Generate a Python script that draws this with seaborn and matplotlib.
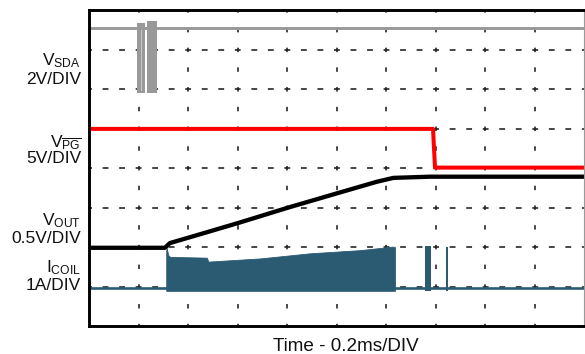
import matplotlib
matplotlib.use("Agg")
import matplotlib.pyplot as plt
import seaborn as sns
import pandas as pd

# Scope screen: 10 horizontal divisions (0.2 ms/DIV), 8 vertical divisions.
# All trace values are given in screen divisions.

# SDA line: idle-high level, low level of the I2C burst, burst windows
sda_time = [0.0, 10.0]
sda_level = [7.54, 7.54]
sda_low = 5.89
sda_burst_start = [0.976, 1.166]
sda_burst_end = [1.131, 1.368]
sda_burst_top = [7.68, 7.71]
sda_gap_time = [1.058, 1.072]

# Power-good (active low) output
pg_time = [0.0, 6.95, 6.99, 10.0]
pg_level = [4.99, 4.99, 4.01, 4.01]

# Output voltage soft-start ramp
vout_time = [0.0, 1.535, 1.60, 1.636, 2.10, 3.02, 4.03, 5.04, 5.81, 6.15, 6.89, 10.0]
vout_level = [1.98, 1.98, 2.06, 2.10, 2.27, 2.61, 3.00, 3.37, 3.65, 3.75, 3.78, 3.78]

# Coil current: zero level, switching envelope, and isolated pulses afterwards
coil_zero = 0.95
coil_valley = 0.89
coil_env_time = [1.56, 1.57, 1.60, 1.636, 2.38, 2.41, 3.45, 4.46, 5.47, 6.14, 6.18]
coil_env_peak = [1.90, 1.97, 1.80, 1.75, 1.73, 1.63, 1.71, 1.84, 1.92, 2.01, 2.00]
coil_pulse_start = [6.79, 7.21]
coil_pulse_end = [6.91, 7.25]
coil_pulse_peak = [2.03, 2.00]

channel_names = [r"$\mathrm{V}_{\mathrm{SDA}}$", r"$\mathrm{V}_{\overline{\mathrm{PG}}}$",
                 r"$\mathrm{V}_{\mathrm{OUT}}$", r"$\mathrm{I}_{\mathrm{COIL}}$"]
channel_scales = ["2V/DIV", "5V/DIV", "0.5V/DIV", "1A/DIV"]
name_baselines = [6.61, 4.53, 2.56, 1.37]
scale_baselines = [6.13, 4.13, 2.10, 0.91]
time_label = "Time - 0.2ms/DIV"

sns.set_theme(style="white")
plt.rcParams["font.family"] = ["Liberation Sans", "DejaVu Sans"]
plt.rcParams["mathtext.fontset"] = "custom"
plt.rcParams["mathtext.rm"] = "Liberation Sans"
plt.rcParams["mathtext.it"] = "Liberation Sans:italic"
plt.rcParams["mathtext.bf"] = "Liberation Sans:bold"
plt.rcParams["lines.scale_dashes"] = False

W, H = 585, 354
fig = plt.figure(figsize=(W / 100, H / 100), dpi=100)
left, right, top, bottom = 89, 584, 10, 326
ax = fig.add_axes([left / W, (H - bottom) / H, (right - left) / W, (bottom - top) / H])
ax.set_xlim(0, 10)
ax.set_ylim(0, 8)

# Graticule
ax.set_xticks(range(1, 10))
ax.set_yticks(range(1, 8))
ax.set_xticklabels([])
ax.set_yticklabels([])
ax.tick_params(length=0)
ax.set_axisbelow(True)
ax.xaxis.grid(True, color="#1e1e1e", linewidth=1.15, linestyle=(1.6, (3.2, 11.0)))
ax.yaxis.grid(True, color="#1e1e1e", linewidth=1.15, linestyle=(2.1, (4.2, 7.7)))

for side in ("left", "top", "bottom"):
    ax.spines[side].set_color("black")
    ax.spines[side].set_linewidth(2.1)
ax.spines["right"].set_color("#9a9a9a")
ax.spines["right"].set_linewidth(0.8)

gray = "#999999"
red = "#ff0000"
teal = "#2a5b73"

# SDA
sns.lineplot(x=sda_time, y=sda_level, ax=ax, color=gray, linewidth=2.1,
             estimator=None, sort=False)
for s, e, t in zip(sda_burst_start, sda_burst_end, sda_burst_top):
    ax.fill_between([s, e], [sda_low, sda_low], [t, t], color=gray, linewidth=0)
ax.fill_between(sda_gap_time, [sda_low + 0.05] * 2, [sda_level[0] - 0.05] * 2,
                color="#c8c8c8", linewidth=0)

# Coil current
sns.lineplot(x=[0.0, 10.0], y=[coil_zero, coil_zero], ax=ax, color=teal,
             linewidth=1.9, estimator=None, sort=False)
ax.fill_between(coil_env_time, [coil_valley] * len(coil_env_time), coil_env_peak,
                color=teal, linewidth=0.6, edgecolor=teal)
for s, e, t in zip(coil_pulse_start, coil_pulse_end, coil_pulse_peak):
    ax.fill_between([s, e], [coil_valley, coil_valley], [t, t], color=teal, linewidth=0)

# PG and VOUT
df_pg = pd.DataFrame({"t": pg_time, "v": pg_level})
sns.lineplot(data=df_pg, x="t", y="v", ax=ax, color=red, linewidth=2.9,
             estimator=None, sort=False)
df_out = pd.DataFrame({"t": vout_time, "v": vout_level})
sns.lineplot(data=df_out, x="t", y="v", ax=ax, color="black", linewidth=3.1,
             estimator=None, sort=False)

ax.set_xlabel("")
ax.set_ylabel("")

# Channel labels at the left of the screen
for name, scale, yb1, yb2 in zip(channel_names, channel_scales, name_baselines, scale_baselines):
    ax.text(-0.16, yb1, name, ha="right", va="baseline", fontsize=12.5,
            color="#111111", clip_on=False)
    ax.text(-0.16, yb2, scale, ha="right", va="baseline", fontsize=12.5,
            color="#111111", clip_on=False)

ax.text(5.19, -0.51, time_label, ha="center", va="center", fontsize=13.6,
        color="#111111", clip_on=False)

fig.savefig("out.png", dpi=100)
